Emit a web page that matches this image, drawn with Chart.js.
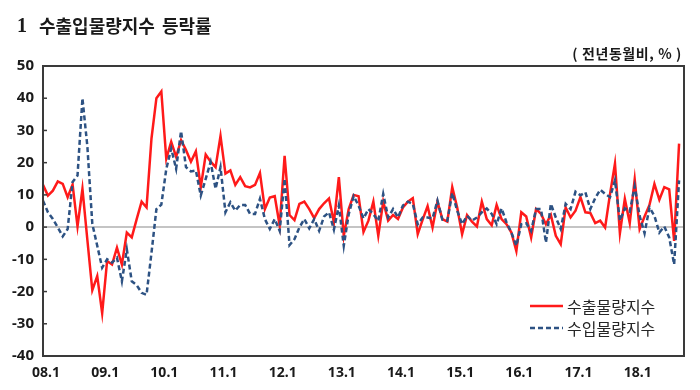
<!DOCTYPE html>
<html><head><meta charset="utf-8">
<script src="https://cdn.jsdelivr.net/npm/chart.js@4/dist/chart.umd.min.js"></script>
<style>
html,body{margin:0;padding:0;background:#fff;}
#wrap{position:relative;width:700px;height:390px;overflow:hidden;}
canvas{position:absolute;left:0;top:0;}
.t{position:absolute;white-space:nowrap;color:#1a1a1a;}
</style></head><body>
<div id="wrap">
<canvas id="c" width="700" height="390"></canvas>
<div class="t" style="left:17px;top:14px;line-height:22px;font-weight:bold;font-size:20px;font-family:'Liberation Serif',serif;">1</div>
<div class="t" style="left:39px;top:14px;line-height:22px;font-weight:bold;font-size:18px;font-family:'Noto Sans CJK KR';word-spacing:3px;">수출입물량지수 등락률</div>
<div class="t" style="right:18px;top:44px;line-height:18px;font-weight:bold;font-size:14px;letter-spacing:0.6px;font-family:'Noto Sans CJK KR';">( 전년동월비, % )</div>
</div>
<script>
const years = ['08','09','10','11','12','13','14','15','16','17','18'];
const tickLabels = ['08.1','09.1','10.1','11.1','12.1','13.1','14.1','15.1','16.1','17.1','18.1'];
const seriesNames = ['수출물량지수','수입물량지수'];

// 2008.1 ~ 2018.10 (monthly, YoY %)
const exportVol = [
  13.1, 9.8, 11.3, 14.2, 13.4, 9.3, 13.2, 0.2, 11.9, -4, -19.6, -15.2,
  -26.7, -10.5, -11.6, -6.4, -11.6, -1.7, -3.2, 2.5, 7.9, 6.1, 27.5, 40,
  42.1, 21.2, 26.5, 21.8, 27, 23.9, 20.3, 23.5, 12.4, 22.5, 20.3, 18.6,
  28.3, 16.6, 17.6, 13.1, 15.5, 12.7, 12.3, 13.1, 16.8, 5.6, 9.2, 9.6,
  0.5, 22.1, 3.75, 2.2, 7.2, 7.9, 5.6, 2.8, 5.6, 7.4, 8.9, 1.5,
  15.5, -2.7, 5.6, 10, 9.6, -1.5, 2, 7.9, -2.7, 7.9, 2, 3.75,
  2.5, 6.1, 7.9, 9, -2.2, 2.3, 6.5, -0.1, 7.9, 2.5, 1.7, 12.4,
  6.1, -2.2, 3.75, 1.7, 0.2, 7.9, 2.5, 0.6, 6.9, 2.5, 0.9, -1.7,
  -7.4, 4.6, 3.3, -3.2, 5.6, 4.1, 0.9, 3.75, -2.7, -5.3, 6.1, 3,
  5.1, 9.3, 4.6, 4.4, 1.25, 2, -0.1, 10.3, 19.7, -1.9, 8.75, 1.25,
  14.8, -0.6, 3.3, 6.9, 13.4, 8.5, 12.4, 11.7, -4.3, 25.9
];
const importVol = [
  8.2, 4.6, 2.5, -0.1, -2.9, -0.6, 14, 16, 40, 25, 1, -5.8,
  -12.6, -10, -11, -9.5, -16.8, -6.9, -16.8, -18, -20.4, -21, -8, 5.6,
  7, 18, 24.4, 18.1, 29.8, 18.6, 17.3, 17.6, 9.8, 15, 20.2, 11.9,
  18.6, 4.6, 7.7, 5.1, 6.9, 6.9, 4.1, 4.1, 8.8, 2.5, -0.6, 2.5,
  -1.2, 15, -5.6, -3.75, -0.1, 2.5, -0.4, 2.5, -1.15, 3.3, 4.6, -0.8,
  6.7, -5.8, 4, 9.6, 6.7, 2.7, 5.6, 4, 1.9, 10.3, 3, 5.6,
  3, 6.7, 7.9, 7.2, 0.9, 3, 3, 2.7, 8.2, 2.3, 2, 10.6,
  5.1, 0.9, 3.5, 2, 3, 4.6, 5.8, 4.1, 0.9, 5.8, 1.5, -1.7,
  -5.8, 0.9, 1.2, -1.2, 5.6, 5.6, -4.8, 7.2, 3, -0.6, 7.2, 5.6,
  11, 9.9, 10.8, 5.6, 9, 11.6, 10.3, 9.3, 14.5, 2, 5.8, 4.8,
  12.7, 3.5, -1.9, 6.1, 3.5, -1.7, 0.2, -3.2, -11.6, 14.5
];

const categories = [];
years.forEach(y => { for (let m = 1; m <= 12; m++) categories.push(y + '.' + m); });
categories.length = 131; // through 18.11 (axis end)

const colors = ['#ff1a1a', '#2d5283'];

const framePlugin = {
  id: 'frame',
  afterDatasetsDraw(chart) {
    const {ctx, chartArea: a} = chart;
    const ys = chart.scales.y;
    ctx.save();
    ctx.strokeStyle = '#3a3a3a';
    ctx.lineWidth = 2;
    ctx.strokeRect(a.left, a.top, a.right - a.left, a.bottom - a.top);
    ctx.lineWidth = 1.5;
    ys.ticks.forEach(t => {
      const py = ys.getPixelForValue(t.value);
      ctx.beginPath(); ctx.moveTo(a.left, py); ctx.lineTo(a.left + 4, py); ctx.stroke();
    });
    ctx.restore();
  },
  afterDraw(chart) {
    const ctx = chart.ctx;
    ctx.save();
    ctx.font = '16px "Noto Sans CJK KR"';
    ctx.textBaseline = 'middle';
    ctx.fillStyle = '#262626';
    const rows = [306, 328];
    chart.data.datasets.forEach((ds, i) => {
      const y = rows[i];
      ctx.strokeStyle = ds.borderColor;
      ctx.lineWidth = 2.5;
      ctx.setLineDash(ds.borderDash || []);
      ctx.beginPath(); ctx.moveTo(530, y); ctx.lineTo(563, y); ctx.stroke();
      ctx.setLineDash([]);
      ctx.fillText(ds.label, 567, y + 1);
    });
    ctx.restore();
  }
};

new Chart(document.getElementById('c'), {
  type: 'line',
  data: {
    labels: categories,
    datasets: [
      { label: seriesNames[0], data: exportVol, borderColor: colors[0], borderWidth: 2.5,
        pointRadius: 0, tension: 0, fill: false, order: 2 },
      { label: seriesNames[1], data: importVol, borderColor: colors[1], borderWidth: 2.5,
        borderDash: [5, 3], pointRadius: 0, tension: 0, fill: false, order: 1 }
    ]
  },
  options: {
    responsive: false,
    devicePixelRatio: 1,
    animation: false,
    layout: { padding: { top: 66, right: 16, left: 0, bottom: 0 } },
    plugins: { legend: { display: false }, tooltip: { enabled: false } },
    scales: {
      x: {
        type: 'category',
        offset: false,
        grid: { display: false, drawTicks: false },
        border: { display: false },
        afterFit(s) { s.height = 34; },
        ticks: {
          autoSkip: false, maxRotation: 0, minRotation: 0, padding: 9, labelOffset: 3,
          color: '#1a1a1a',
          font: { family: 'Noto Sans', size: 14, weight: 'bold' },
          callback(v, i) { const l = categories[i]; return tickLabels.includes(l) ? l : ''; }
        }
      },
      y: {
        min: -40, max: 50,
        afterFit(s) { s.width = 43; },
        border: { display: false },
        grid: {
          drawTicks: false,
          lineWidth: 2,
          color: c => (c.tick && c.tick.value === 0) ? '#c4c4c4' : 'rgba(0,0,0,0)'
        },
        ticks: {
          stepSize: 10, padding: 9, color: '#1a1a1a',
          font: { family: 'Noto Sans', size: 15, weight: 'bold' }
        }
      }
    }
  },
  plugins: [framePlugin]
});
</script>
</body></html>
